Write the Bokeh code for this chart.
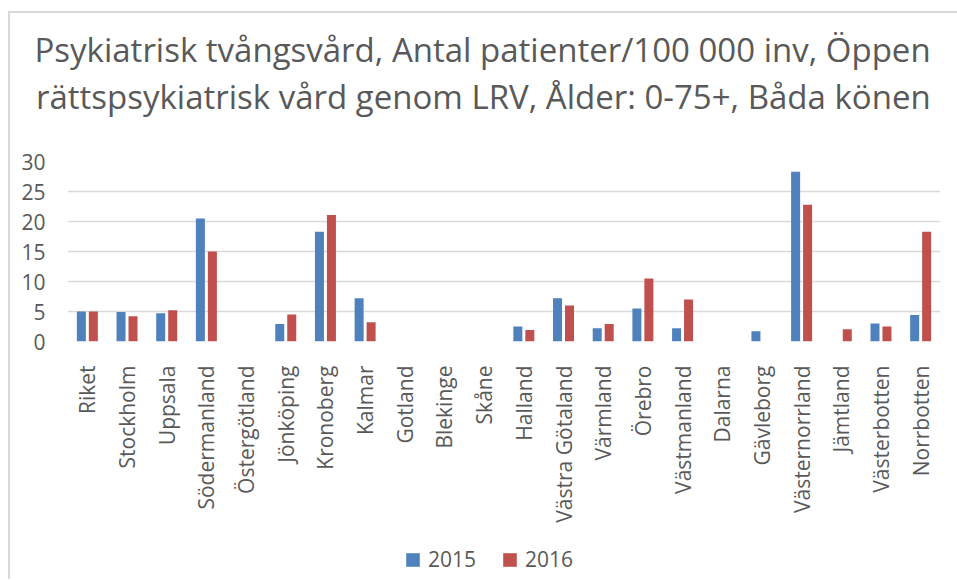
import math
from bokeh.plotting import figure
from bokeh.layouts import column
from bokeh.models import (ColumnDataSource, FactorRange, Range1d, Title, Legend,
                          LegendItem)
from bokeh.transform import dodge
from bokeh.embed import file_html
from bokeh.resources import INLINE

regions = ["Riket", "Stockholm", "Uppsala", "Södermanland", "Östergötland", "Jönköping",
           "Kronoberg", "Kalmar", "Gotland", "Blekinge", "Skåne", "Halland",
           "Västra Götaland", "Värmland", "Örebro", "Västmanland", "Dalarna",
           "Gävleborg", "Västernorrland", "Jämtland", "Västerbotten", "Norrbotten"]
values_2015 = [5.0, 4.9, 4.7, 20.5, None, 2.9, 18.3, 7.2, None, None, None, 2.5,
               7.2, 2.2, 5.5, 2.2, None, 1.7, 28.3, None, 3.0, 4.4]
values_2016 = [5.0, 4.2, 5.2, 15.0, None, 4.5, 21.1, 3.2, None, None, None, 1.9,
               6.0, 2.9, 10.5, 7.0, None, None, 22.8, 2.05, 2.5, 18.3]
series_names = ["2015", "2016"]
y_ticks = [0, 5, 10, 15, 20, 25, 30]

title_line1 = "Psykiatrisk tvångsvård, Antal patienter/100 000 inv, Öppen"
title_line2 = "rättspsykiatrisk vård genom LRV, Ålder: 0-75+, Båda könen"

def nz(v):
    return float("nan") if v is None else v

src = ColumnDataSource(dict(
    region=regions,
    v2015=[nz(v) for v in values_2015],
    v2016=[nz(v) for v in values_2016],
))

FONT = "Open Sans"
TXT = "#595959"
C2015 = "#4F81BD"
C2016 = "#C0504D"
BORDER = "#d9d9d9"
W = 957
TITLE_H, MAIN_H, LEG_H = 130, 405, 44

# chart-area border (left and top edges), drawn as host background
bg_top = (f"linear-gradient({BORDER}, {BORDER}) 8px 11px / 949px 2px no-repeat, "
          f"linear-gradient({BORDER}, {BORDER}) 8px 11px / 2px 100% no-repeat, white")
bg_side = f"linear-gradient({BORDER}, {BORDER}) 8px 0px / 2px 100% no-repeat, white"


def blank_fig(h, top=0):
    f = figure(width=W, height=h, x_range=Range1d(0, 1), y_range=Range1d(0, 1),
               output_backend="svg", toolbar_location=None, title=None,
               x_axis_location=None, y_axis_location=None,
               min_border_left=0, min_border_right=0,
               min_border_top=top, min_border_bottom=0)
    f.grid.visible = False
    f.outline_line_color = None
    f.border_fill_color = None
    f.background_fill_color = None
    return f

# --- title ---
pt = blank_fig(TITLE_H, top=118)
pt.styles = {"background": bg_top}
t1 = Title(text=title_line1, align="left", offset=-33, text_font_size="33px",
           text_font=FONT, text_color=TXT, text_font_style="normal", standoff=0)
t2 = Title(text=title_line2, align="left", offset=-31.5, text_font_size="33px",
           text_font=FONT, text_color=TXT, text_font_style="normal", standoff=0)
pt.add_layout(t2, "above")
pt.add_layout(t1, "above")

# --- main chart ---
p = figure(x_range=FactorRange(*regions), y_range=Range1d(0, 30),
           width=W, height=MAIN_H, output_backend="svg", toolbar_location=None,
           title=None, min_border_left=67, min_border_right=17,
           min_border_top=31, min_border_bottom=194)
p.border_fill_color = None
p.styles = {"background": bg_side}

p.vbar(x=dodge("region", -0.151, range=p.x_range), top="v2015", width=0.227,
       source=src, color=C2015, line_color=None)
p.vbar(x=dodge("region", 0.151, range=p.x_range), top="v2016", width=0.227,
       source=src, color=C2016, line_color=None)

p.outline_line_color = None
p.xgrid.grid_line_color = None
p.ygrid.grid_line_color = BORDER
p.ygrid.grid_line_width = 1.5
p.yaxis.ticker = y_ticks
p.yaxis.axis_line_color = None
p.yaxis.major_tick_line_color = None
p.yaxis.minor_tick_line_color = None
p.yaxis.major_label_text_font = FONT
p.yaxis.major_label_text_font_size = "21px"
p.yaxis.major_label_text_color = TXT
p.yaxis.major_label_standoff = 16

p.xaxis.axis_line_color = None
p.xaxis.major_tick_line_color = None
p.xaxis.major_label_orientation = math.pi / 2
p.xaxis.major_label_text_font = FONT
p.xaxis.major_label_text_font_size = "21px"
p.xaxis.major_label_text_color = TXT
p.xaxis.major_label_standoff = 18

# --- legend (own strip, proxy renderers without visible marks) ---
pl = blank_fig(LEG_H)
pl.styles = {"background": bg_side}
nan = float("nan")
lr1 = pl.vbar(x=[nan], top=[nan], width=1, color=C2015, line_color=None)
lr2 = pl.vbar(x=[nan], top=[nan], width=1, color=C2016, line_color=None)
legend = Legend(items=[LegendItem(label=series_names[0], renderers=[lr1]),
                       LegendItem(label=series_names[1], renderers=[lr2])],
                orientation="horizontal", location=(337, 6),
                glyph_width=17, glyph_height=17, label_standoff=7, spacing=25,
                label_text_font=FONT, label_text_font_size="21px", label_text_color=TXT,
                border_line_color=None, background_fill_alpha=0, padding=0, margin=0)
pl.add_layout(legend, "center")

layout = column(pt, p, pl, spacing=0)
open("out.html", "w").write(file_html(layout, INLINE))
